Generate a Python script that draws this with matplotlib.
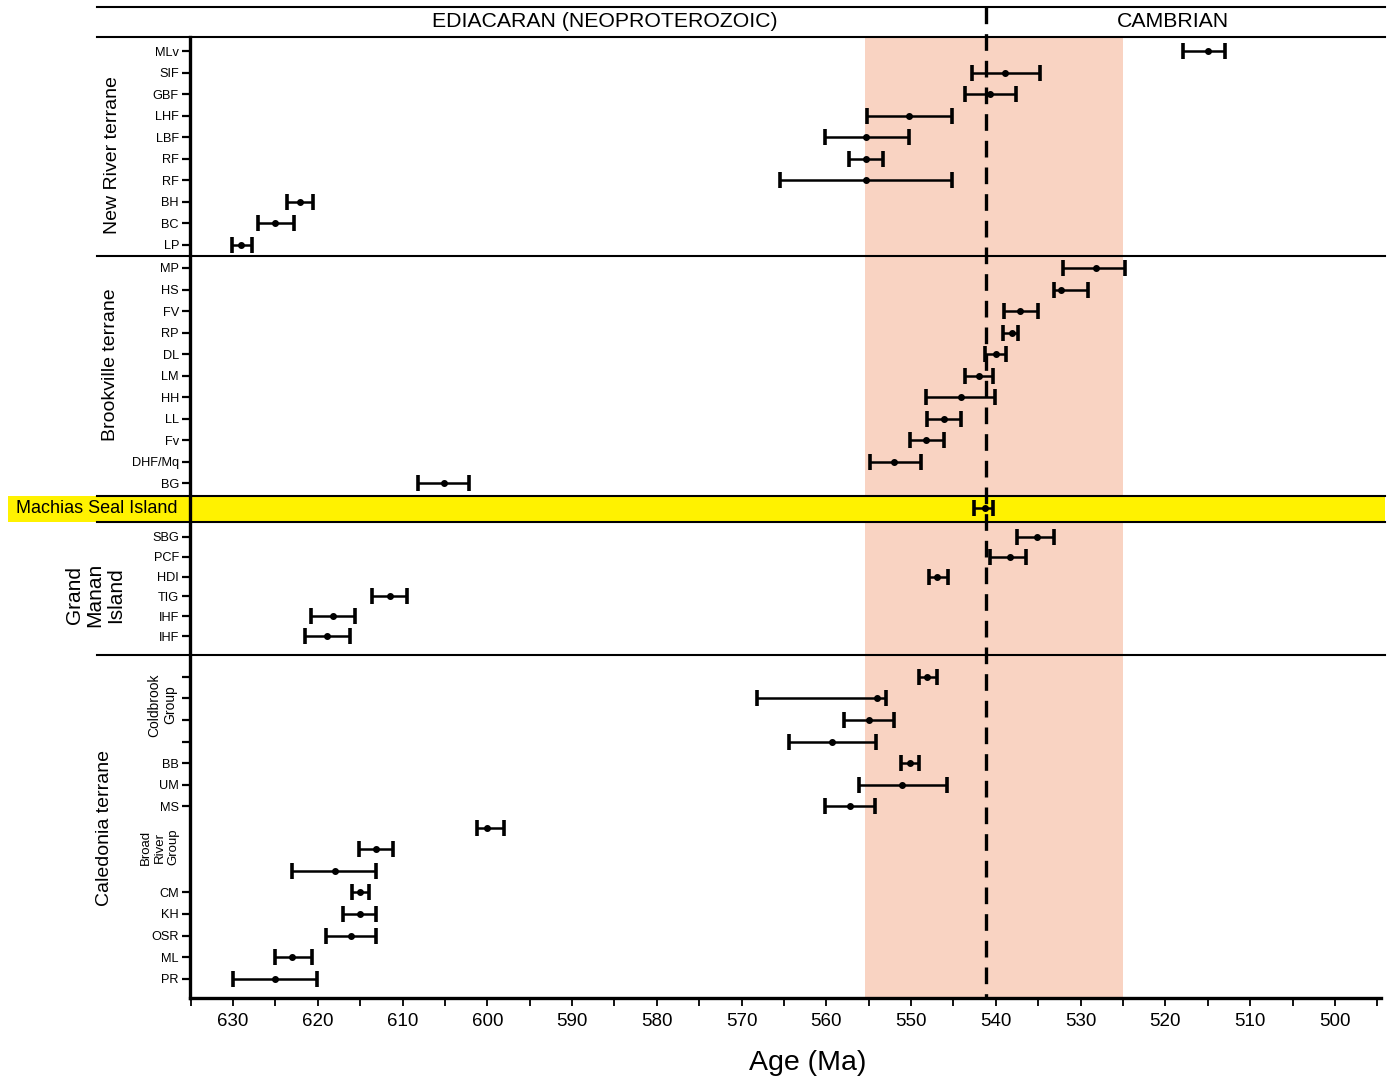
import matplotlib
matplotlib.use("Agg")
import matplotlib.pyplot as plt
import matplotlib.transforms as mtransforms
from matplotlib.patches import Rectangle
from matplotlib.ticker import MultipleLocator

plt.rcParams['font.family'] = ['Liberation Sans', 'DejaVu Sans']

# ages (Ma): best estimate, older bound, younger bound
nr_labels = ['MLv', 'SIF', 'GBF', 'LHF', 'LBF', 'RF', 'RF', 'BH', 'BC', 'LP']
nr_age = [515.0, 538.9, 540.7, 550.2, 555.3, 555.3, 555.3, 622.1, 625.0, 629.1]
nr_old = [517.9, 542.8, 543.6, 555.2, 560.2, 557.3, 565.5, 623.6, 627.0, 630.1]
nr_young = [513.0, 534.8, 537.6, 545.2, 550.3, 553.3, 545.2, 620.6, 622.8, 627.8]

bv_labels = ['MP', 'HS', 'FV', 'RP', 'DL', 'LM', 'HH', 'LL', 'Fv', 'DHF/Mq', 'BG']
bv_age = [528.2, 532.3, 537.2, 538.1, 540.0, 542.0, 544.1, 546.1, 548.2, 552.0, 605.1]
bv_old = [532.1, 533.2, 539.0, 539.2, 541.3, 543.6, 548.2, 548.1, 550.1, 554.9, 608.2]
bv_young = [524.8, 529.1, 535.0, 537.4, 538.8, 540.3, 540.1, 544.1, 546.1, 548.8, 602.2]

ms_age = [541.3]
ms_old = [542.6]
ms_young = [540.3]

gm_labels = ['SBG', 'PCF', 'HDI', 'TIG', 'IHF', 'IHF']
gm_age = [535.1, 538.3, 546.9, 611.5, 618.2, 618.9]
gm_old = [537.5, 540.7, 547.9, 613.6, 620.8, 621.5]
gm_young = [533.1, 536.4, 545.7, 609.5, 615.6, 616.2]

# '' = tick without label, None = no tick
cal_labels = ['', '', '', '', 'BB', 'UM', 'MS', None, None, None,
              'CM', 'KH', 'OSR', 'ML', 'PR']
cal_age = [548.1, 554.0, 555.0, 559.3, 550.1, 551.1, 557.2, 600.0, 613.1,
           618.0, 615.0, 615.0, 616.1, 623.0, 625.0]
cal_old = [549.1, 568.2, 557.9, 564.4, 551.2, 556.2, 560.2, 601.2, 615.1,
           623.0, 616.0, 617.0, 619.0, 625.0, 630.0]
cal_young = [547.0, 553.0, 552.0, 554.1, 549.1, 545.8, 554.2, 598.0, 611.1,
             613.1, 614.0, 613.1, 613.1, 620.7, 620.1]

boundary = 541.2
band = (555.4, 525.0)


def rows(start, n, step=1.0):
    return [start + i * step for i in range(n)]


groups = [
    (rows(0.65, 10), nr_labels, nr_age, nr_old, nr_young),
    (rows(10.72, 11), bv_labels, bv_age, bv_old, bv_young),
    ([21.86], [None], ms_age, ms_old, ms_young),
    (rows(23.2, 6, 0.92), gm_labels, gm_age, gm_old, gm_young),
    (rows(29.7, 15), cal_labels, cal_age, cal_old, cal_young),
]

fig = plt.figure(figsize=(13.89, 10.76), dpi=100)
ax = fig.add_axes([0.1368, 0.0725, 0.8574, 0.8931])
ax.set_xlim(635.07, 494.57)
ax.set_ylim(44.6, 0)

trans = mtransforms.blended_transform_factory(ax.transAxes, ax.transData)

ax.axvspan(band[0], band[1], color='#f9d3c2', lw=0, zorder=0)

# Machias Seal Island yellow strip
ax.add_patch(Rectangle((-0.153, 21.3), 1.156, 1.2, transform=trans,
                       facecolor='#fff200', edgecolor='none', clip_on=False, zorder=1))

# separators and header box
for yy in [-1.39, 0, 10.16, 21.3, 22.5, 28.68]:
    ax.plot([-0.078, 1.0034], [yy, yy], transform=trans, color='black',
            lw=1.5, clip_on=False, zorder=2)

ax.plot([boundary, boundary], [-1.39, 44.6], color='black', lw=2.4,
        ls=(0, (5, 3)), clip_on=False, zorder=3)

ax.text(586.1, -0.72, 'EDIACARAN (NEOPROTEROZOIC)', ha='center', va='center', fontsize=15.3)
ax.text(519.1, -0.72, 'CAMBRIAN', ha='center', va='center', fontsize=15.3)

ticks, ticklabels = [], []
for ys, labels, age, old, young in groups:
    xerr = [[a - y for a, y in zip(age, young)], [o - a for a, o in zip(age, old)]]
    ax.errorbar(age, ys, xerr=xerr, fmt='o', color='black', ms=4,
                elinewidth=1.8, capsize=6, capthick=2.6, zorder=4)
    for yv, lab in zip(ys, labels):
        if lab is not None:
            ticks.append(yv)
            ticklabels.append(lab)

ax.set_yticks(ticks)
ax.set_yticklabels(ticklabels, fontsize=9.2)
ax.tick_params(axis='y', direction='out', length=6, width=1.6, pad=2)

ax.xaxis.set_major_locator(MultipleLocator(10))
ax.xaxis.set_minor_locator(MultipleLocator(5))
ax.tick_params(axis='x', which='both', direction='out', length=6, width=1.3,
               labelsize=13.5, pad=5)

for side in ['top', 'right']:
    ax.spines[side].set_visible(False)
ax.spines['left'].set_linewidth(2.4)
ax.spines['bottom'].set_linewidth(2.4)

ax.set_xlabel('Age (Ma)', fontsize=20.5, x=0.519, labelpad=14)

# group labels left of the axis
ax.text(-0.0655, 5.48, 'New River terrane', transform=trans, rotation=90,
        ha='center', va='center', fontsize=14)
ax.text(-0.067, 15.2, 'Brookville terrane', transform=trans, rotation=90,
        ha='center', va='center', fontsize=14)
ax.text(-0.0798, 25.9, 'Grand\nManan\nIsland', transform=trans, rotation=90,
        ha='center', va='center', fontsize=15, linespacing=1.1)
ax.text(-0.0722, 36.7, 'Caledonia terrane', transform=trans, rotation=90,
        ha='center', va='center', fontsize=14)
ax.text(-0.0235, 31.0, 'Coldbrook\nGroup', transform=trans, rotation=90,
        ha='center', va='center', fontsize=10, multialignment='center')
ax.text(-0.0252, 37.6, 'Broad\nRiver\nGroup', transform=trans, rotation=90,
        ha='center', va='center', fontsize=9.5, multialignment='center')
ax.text(-0.0101, 21.9, 'Machias Seal Island', transform=trans,
        ha='right', va='center', fontsize=13, zorder=5)

fig.savefig('out.png', dpi=100)
